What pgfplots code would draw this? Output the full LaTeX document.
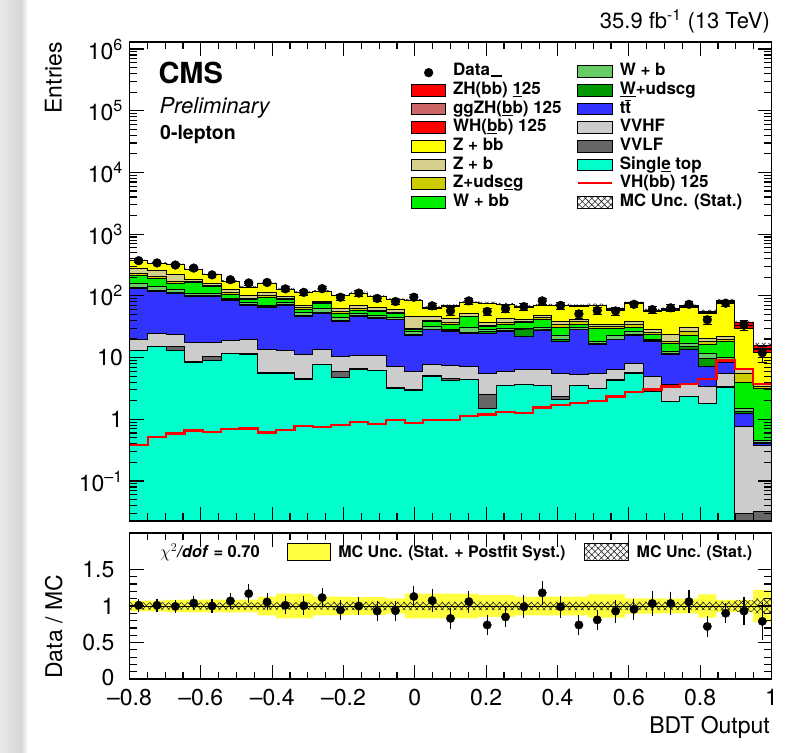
\documentclass[border=0pt]{standalone}
\usepackage{fontspec}
\setmainfont{TeX Gyre Heros}
\usepackage{pgfplots}
\pgfplotsset{compat=1.18}
\usepackage{pgfplotstable}
\usepgfplotslibrary{fillbetween}
\usetikzlibrary{patterns.meta}

\newcommand{\fs}[1]{\fontsize{#1}{#1}\selectfont}

\definecolor{cZH}{HTML}{FF0000}
\definecolor{cggZH}{HTML}{CC6666}
\definecolor{cWH}{HTML}{FF0000}
\definecolor{cZbb}{HTML}{FFFF00}
\definecolor{cZb}{HTML}{D4CF8A}
\definecolor{cZl}{HTML}{CCCC00}
\definecolor{cWbb}{HTML}{00EE00}
\definecolor{cWb}{HTML}{66CC66}
\definecolor{cWl}{HTML}{009900}
\definecolor{cTT}{HTML}{3333FF}
\definecolor{cVVHF}{HTML}{CCCCCC}
\definecolor{cVVLF}{HTML}{666666}
\definecolor{cST}{HTML}{00FFCC}
\definecolor{cBand}{HTML}{FFFF40}

\tikzset{mchatch/.style={pattern={Hatch[angle=45,distance=4.5pt,line width=0.6pt]}, pattern color=black!85}}

% Stack boundaries (cumulative from the bottom): single top, VVLF, VVHF, ttbar,
% W+udscg, W+b, W+bb, Z+udscg, Z+b, Z+bb, WH, ggZH, ZH.
% First and last rows close each area below the visible range.
\pgfplotstableread{
bin st vl vh tt wl wb wbb zl zb zbb wh gg zh
0 0.001 0.001 0.001 0.001 0.001 0.001 0.001 0.001 0.001 0.001 0.001 0.001 0.001
0 12.8 13.0 19.3 133 138 160 211 228 280 368 368.17 368.21 368.38
1 15.0 15.3 24.8 117 122 140 193 205 256 338 338.23 338.29 338.52
2 12.8 15.0 24.1 110 114 125 160 172 226 317 317.27 317.32 317.59
3 8.3 8.5 17.4 97 102 110 164 172 186 270 270.30 270.36 270.66
4 9.1 10.3 17.4 97 100 108 141 150 160 218 218.28 218.35 218.63
5 11.7 11.8 18.8 84 87 92 107 112 128 170 170.31 170.38 170.69
6 11.4 11.6 19.8 71 73 78 88 92 100 138 138.32 138.39 138.71
7 5.6 5.7 13.3 65 67 70 95 100 113 156 156.27 156.34 156.61
8 5.6 5.7 12.8 71 73 78 86 90 97 128 128.30 128.37 128.67
9 4.45 4.5 11.4 46 48 53 61 64 71 113 113.35 113.43 113.78
10 7.6 7.7 13.6 52 54 62 74 77 81 117 117.34 117.42 117.76
11 4.8 5.9 10.3 38 40 44 52 55 63 100 100.37 100.45 100.82
12 6.5 6.6 11.0 46 48 52 59 62 71 110 110.41 110.50 110.91
13 6.1 6.2 11.0 43 45 48 55 58 65 97 97.38 97.47 97.85
14 3.2 3.3 7.1 41 42 45 51 54 61 86 86.44 86.53 86.97
15 2.9 3.0 5.9 23 24 26 29 30 46 83 83.39 83.47 83.86
16 5.0 5.1 7.8 28 29 32 38 40 46 63 63.44 63.53 63.97
17 4.2 4.6 7.5 26 27 28.5 34 37 43 68 68.44 68.54 68.98
18 4.4 4.45 7.2 25 25.5 31 45.5 47 52 77 77.50 77.62 78.12
19 1.51 2.55 5.6 25 26 28 31.5 33 37 75 75.54 75.66 76.20
20 3.5 3.55 5.9 26.5 27.5 30 35 37 43 72 72.59 72.72 73.30
21 3.6 3.65 6.3 21.8 28 30 36.5 38 42 66 66.58 66.70 67.28
22 3.5 3.55 6.5 27 28 31 41 44 48 69 69.70 69.85 70.55
23 2.1 2.3 5.5 18.5 19.5 23.2 31 34 38 69 69.77 69.94 70.70
24 3.5 3.55 5.3 28 28.8 30.5 35 38 41 67 67.84 68.02 68.86
25 3.1 3.15 5.5 16.6 17.2 18.5 29.8 31.5 35 69 69.90 70.10 71.00
26 4.3 4.35 6.3 19.3 19.8 23.2 29.8 31.5 33.8 59 60.06 60.29 61.35
27 5.6 5.65 8.1 23.2 24 26 30.9 34 38.2 74 75.24 75.51 76.75
28 2.8 2.85 5.0 18.1 18.6 19.8 24.1 25.5 28 55 56.37 56.68 58.05
29 1.93 1.97 3.7 11.4 11.8 12.5 17 18.1 24.1 58 59.53 59.87 61.40
30 2.3 2.35 3.6 13.3 15 17 23.2 26 30.9 65 66.67 67.04 68.70
31 1.8 1.83 3.4 7.1 9.7 11.7 16 18 20.5 52 54.03 54.48 56.50
32 3.3 3.35 5.6 8.4 9.0 10.0 18.1 19.3 21.8 75 79.05 79.95 84.00
33 0.001 0.03 0.76 1.25 1.35 1.5 3.9 5.6 6.7 30 32.97 33.63 36.60
34 0.001 0.032 0.38 0.40 0.42 0.45 3.2 3.4 3.6 12 13.67 14.04 15.70
35 0.001 0.032 0.38 0.40 0.42 0.45 3.2 3.4 3.6 12 13.67 14.04 15.70
35 0.001 0.001 0.001 0.001 0.001 0.001 0.001 0.001 0.001 0.001 0.001 0.001 0.001
}\stk

% VH(bb) 125 signal, unstacked
\pgfplotstableread{
bin s
0 0.38
1 0.52
2 0.59
3 0.66
4 0.63
5 0.69
6 0.71
7 0.61
8 0.67
9 0.78
10 0.76
11 0.82
12 0.91
13 0.85
14 0.97
15 0.86
16 0.97
17 0.98
18 1.12
19 1.20
20 1.30
21 1.28
22 1.55
23 1.70
24 1.86
25 2.00
26 2.35
27 2.75
28 3.05
29 3.40
30 3.70
31 4.50
32 9.00
33 6.60
34 3.70
35 3.70
}\sig

% data: counts, stat. error, ratio to MC and its error
\pgfplotstableread{
bin n en r re
0 372 19.3 1.01 0.052
1 342 18.5 1.01 0.055
2 316 17.8 0.995 0.056
3 282 16.8 1.04 0.062
4 219 14.8 1.00 0.068
5 183 13.5 1.07 0.079
6 162 12.7 1.17 0.092
7 165 12.8 1.055 0.082
8 130 11.4 1.01 0.089
9 114 10.7 1.005 0.094
10 131 11.4 1.115 0.098
11 95 9.7 0.945 0.097
12 111 10.5 1.00 0.095
13 91 9.5 0.93 0.098
14 81 9.0 0.935 0.104
15 95 9.7 1.13 0.116
16 69 8.3 1.075 0.129
17 57 7.5 0.83 0.111
18 83 9.1 1.06 0.116
19 56 7.5 0.74 0.099
20 62 7.9 0.85 0.108
21 67 8.2 0.99 0.121
22 83 9.1 1.18 0.130
23 70 8.4 0.99 0.118
24 51 7.1 0.74 0.104
25 58 7.6 0.81 0.107
26 57 7.5 0.93 0.124
27 73 8.5 0.955 0.112
28 60 7.7 1.035 0.134
29 64 8.0 1.035 0.129
30 73 8.5 1.06 0.125
31 41 6.4 0.72 0.113
32 76 8.7 0.90 0.103
33 34 5.8 0.93 0.160
34 12 3.5 0.79 0.226
}\dat

% MC total with relative stat. and stat.+postfit syst. uncertainties
\pgfplotstableread{
bin tot stat syst
0 368.4 0.05 0.072
1 338.5 0.05 0.072
2 317.6 0.05 0.085
3 270.7 0.05 0.088
4 218.6 0.05 0.088
5 170.7 0.05 0.088
6 138.7 0.05 0.088
7 156.6 0.05 0.13
8 128.7 0.05 0.17
9 113.8 0.05 0.17
10 117.8 0.05 0.13
11 100.8 0.055 0.13
12 110.9 0.055 0.12
13 97.9 0.055 0.12
14 87.0 0.055 0.105
15 83.9 0.055 0.17
16 64.0 0.055 0.17
17 69.0 0.055 0.17
18 78.1 0.055 0.17
19 76.2 0.055 0.15
20 73.3 0.055 0.15
21 67.3 0.055 0.13
22 70.6 0.055 0.13
23 70.7 0.055 0.13
24 68.9 0.055 0.13
25 71.0 0.055 0.16
26 61.4 0.055 0.16
27 76.8 0.055 0.105
28 58.1 0.055 0.105
29 61.4 0.055 0.10
30 68.7 0.055 0.10
31 56.5 0.055 0.16
32 84.0 0.06 0.085
33 36.6 0.08 0.085
34 15.7 0.10 0.22
35 15.7 0.10 0.22
}\unc

\pgfplotsset{
  table/edges/.style={x expr={-0.8+\thisrow{bin}*0.0514285714}},
  table/centres/.style={x expr={-0.8+(\thisrow{bin}+0.5)*0.0514285714}},
  layer/.style={fill=#1, draw=black, line width=1pt, const plot mark left, forget plot},
  lbox/.style={legend image code/.code={\draw[line width=0.9pt, draw=black, fill=#1] (0pt,-6pt) rectangle (34.3pt,5.7pt); \path (41.7pt,0pt);}},
  roottick/.style={
    axis on top,
    axis line style={line width=1.6pt},
    tick style={line width=1.2pt, black},
    major tick length=14pt, minor tick length=7.5pt,
    xmin=-0.8, xmax=1,
    xtick={-0.8,-0.6,-0.4,-0.2,0,0.2,0.4,0.6,0.8,1},
    minor x tick num=3,
    ticklabel style={font=\fs{23}},
    scale only axis, width=642pt,
  },
}

\begin{document}
\begin{tikzpicture}
\shade[left color=black!9, right color=black!16] (0pt,0pt) rectangle (21pt,752pt);
\shade[left color=black!16, right color=white] (21pt,0pt) rectangle (28pt,752pt);

% ---------------- upper panel ----------------
\begin{axis}[
  roottick,
  at={(129.5pt,231pt)}, anchor=south west, height=479pt,
  ymode=log, ymin=0.0225, ymax=1.3e6,
  xticklabels={},
  ytick={0.1,1,10,100,1000,10000,100000,1000000},
  yticklabels={10\textsuperscript{–1},1,10,10\textsuperscript{2},10\textsuperscript{3},10\textsuperscript{4},10\textsuperscript{5},10\textsuperscript{6}},
  minor ytick={0.03,0.04,0.05,0.06,0.07,0.08,0.09,0.2,0.3,0.4,0.5,0.6,0.7,0.8,0.9,2,3,4,5,6,7,8,9,20,30,40,50,60,70,80,90,200,300,400,500,600,700,800,900,2000,3000,4000,5000,6000,7000,8000,9000,20000,30000,40000,50000,60000,70000,80000,90000,200000,300000,400000,500000,600000,700000,800000,900000},
  yticklabel style={inner sep=0pt, xshift=-6.5pt},
  legend columns=2,
  legend cell align=left,
  legend style={at={(0.438,0.9562)}, anchor=north west, draw=none, fill=none,
    inner sep=0pt, outer sep=0pt, row sep=1.67pt,
    font=\fs{17}\bfseries,
    nodes={inner sep=0pt, text height=13pt, text depth=4pt}},
]
\addplot[layer=cZH]   table[edges, y=zh]{\stk};
\addplot[layer=cggZH] table[edges, y=gg]{\stk};
\addplot[layer=cWH]   table[edges, y=wh]{\stk};
\addplot[layer=cZbb]  table[edges, y=zbb]{\stk};
\addplot[layer=cZb]   table[edges, y=zb]{\stk};
\addplot[layer=cZl]   table[edges, y=zl]{\stk};
\addplot[layer=cWbb]  table[edges, y=wbb]{\stk};
\addplot[layer=cWb]   table[edges, y=wb]{\stk};
\addplot[layer=cWl]   table[edges, y=wl]{\stk};
\addplot[layer=cTT]   table[edges, y=tt]{\stk};
\addplot[layer=cVVHF] table[edges, y=vh]{\stk};
\addplot[layer=cVVLF] table[edges, y=vl]{\stk};
\addplot[layer=cST]   table[edges, y=st]{\stk};

% MC statistical uncertainty on the total
\addplot[name path=mhi, draw=none, const plot mark left, forget plot] table[edges, y expr=\thisrow{tot}*(1+\thisrow{stat})]{\unc};
\addplot[name path=mlo, draw=none, const plot mark left, forget plot] table[edges, y expr=\thisrow{tot}*(1-\thisrow{stat})]{\unc};
\addplot[mchatch, draw=none, forget plot] fill between[of=mhi and mlo];

% signal shape
\addplot[red, line width=2.2pt, const plot mark left, forget plot] table[edges, y=s]{\sig};

% data
\addplot[only marks, mark=*, mark size=4.4pt, black, forget plot,
  error bars/.cd, y dir=both, y explicit, error bar style={line width=1.2pt}]
  table[centres, y=n, y error=en]{\dat};

\addlegendimage{legend image code/.code={\fill[black] (17.5pt,-1.2pt) circle (4.4pt); \path (0pt,0pt) (41.7pt,0pt);}}
\addlegendentry{\makebox[124pt][l]{Data\kern1pt\rule[-0.6pt]{11pt}{1.2pt}}}
\addlegendimage{lbox=cWb}
\addlegendentry{W + b}
\addlegendimage{lbox=cZH}
\addlegendentry{\makebox[124pt][l]{ZH(bb) \underline{1}25}}
\addlegendimage{lbox=cWl}
\addlegendentry{\underline{W}+udscg}
\addlegendimage{lbox=cggZH}
\addlegendentry{\makebox[124pt][l]{ggZH(\underline{b}b) 125}}
\addlegendimage{lbox=cTT}
\addlegendentry{t$\overline{\hbox{t}}$}
\addlegendimage{lbox=cWH}
\addlegendentry{\makebox[124pt][l]{WH(\underline{b}b) 125}}
\addlegendimage{lbox=cVVHF}
\addlegendentry{VVHF}
\addlegendimage{lbox=cZbb}
\addlegendentry{\makebox[124pt][l]{Z + bb}}
\addlegendimage{lbox=cVVLF}
\addlegendentry{VVLF}
\addlegendimage{lbox=cZb}
\addlegendentry{\makebox[124pt][l]{Z + b}}
\addlegendimage{lbox=cST}
\addlegendentry{Singl\underline{e} top}
\addlegendimage{lbox=cZl}
\addlegendentry{\makebox[124pt][l]{Z+uds\underline{c}g}}
\addlegendimage{legend image code/.code={\draw[red, line width=1.6pt] (0pt,0.2pt) -- (34.3pt,0.2pt); \path (41.7pt,0pt);}}
\addlegendentry{VH(bb) 125}
\addlegendimage{lbox=cWbb}
\addlegendentry{\makebox[124pt][l]{W + bb}}
\addlegendimage{legend image code/.code={\draw[line width=0.9pt, mchatch] (0pt,-6pt) rectangle (34.3pt,5.7pt); \path (41.7pt,0pt);}}
\addlegendentry{MC Unc. (Stat.)}
\end{axis}

% ---------------- ratio panel ----------------
\begin{axis}[
  roottick,
  at={(129.5pt,73pt)}, anchor=south west, height=146pt,
  ymin=0, ymax=2,
  xticklabels={–0.8,–0.6,–0.4,–0.2,0,0.2,0.4,0.6,0.8,1},
  xticklabel style={inner sep=0pt, yshift=-10pt},
  ytick={0,0.5,1,1.5}, yticklabels={\raisebox{3pt}{0},0.5,1,1.5},
  minor y tick num=4,
  yticklabel style={inner sep=0pt, xshift=-15pt},
  legend columns=2,
  legend cell align=left,
  legend style={at={(0.2449,0.9295)}, anchor=north west, draw=none, fill=none,
    inner sep=0pt, outer sep=0pt,
    font=\fs{16}\bfseries,
    nodes={inner sep=0pt, text height=12pt, text depth=4pt}},
]
\addplot[name path=shi, draw=none, const plot mark left, forget plot] table[edges, y expr=1+\thisrow{syst}]{\unc};
\addplot[name path=slo, draw=none, const plot mark left, forget plot] table[edges, y expr=1-\thisrow{syst}]{\unc};
\addplot[fill=cBand, draw=none, forget plot] fill between[of=shi and slo];
\addplot[name path=thi, draw=none, const plot mark left, forget plot] table[edges, y expr=1+\thisrow{stat}]{\unc};
\addplot[name path=tlo, draw=none, const plot mark left, forget plot] table[edges, y expr=1-\thisrow{stat}]{\unc};
\addplot[mchatch, draw=none, forget plot] fill between[of=thi and tlo];
\addplot[black, line width=0.9pt, forget plot] coordinates {(-0.8,1) (1,1)};
\addplot[only marks, mark=*, mark size=4.2pt, black, forget plot,
  error bars/.cd, y dir=both, y explicit, error bar style={line width=1.1pt},
  error mark options={line width=1.1pt, mark size=2.5pt, black}]
  table[centres, y=r, y error=re]{\dat};

\addlegendimage{legend image code/.code={\draw[line width=0.9pt, fill=cBand] (0pt,-6.7pt) rectangle (43pt,10pt); \path (51pt,0pt);}}
\addlegendentry{\makebox[246pt][l]{MC Unc. (Stat. + Postfit Syst.)}}
\addlegendimage{legend image code/.code={\draw[line width=0.9pt, mchatch] (0pt,-6.7pt) rectangle (43.4pt,10pt); \path (51.7pt,0pt);}}
\addlegendentry{MC Unc. (Stat.)}
\end{axis}

% ---------------- labels ----------------
\node[anchor=base west, inner sep=0pt, font=\fs{29}\bfseries] at (158.3pt,668.7pt) {CMS};
\node[anchor=base west, inner sep=0pt, font=\fs{22}\itshape] at (159.3pt,638.7pt) {Preliminary};
\node[anchor=base west, inner sep=0pt, font=\fs{19.5}\bfseries] at (160pt,612pt) {0-lepton};
\node[anchor=base east, inner sep=0pt, font=\fs{22}] at (770pt,723.7pt) {35.9 fb\textsuperscript{-1} (13 TeV)};
\node[rotate=90, anchor=base east, inner sep=0pt, font=\fs{23}] at (61.7pt,710.3pt) {Entries};
\node[rotate=90, anchor=base east, inner sep=0pt, font=\fs{23}] at (62pt,177pt) {Data / MC};
\node[anchor=base east, inner sep=0pt, font=\fs{23}] at (770pt,19pt) {BDT Output};
\node[anchor=base west, inner sep=0pt, font=\fs{16.5}] at (160pt,194.5pt) {$\chi^{2}$\textbf{\textit{/dof}} \textbf{= 0.70}};

\pgfresetboundingbox
\path (0pt,0pt) rectangle (797pt,752pt);
\end{tikzpicture}
\end{document}
